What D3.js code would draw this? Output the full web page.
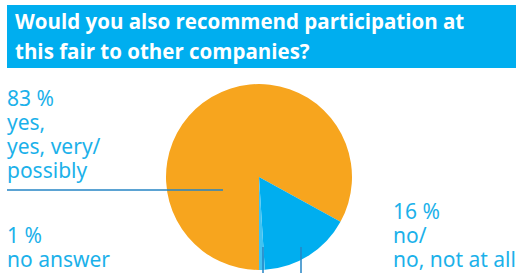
<!DOCTYPE html>
<html>
<head>
<meta charset="utf-8">
<script src="https://cdn.jsdelivr.net/npm/d3@7"></script>
<style>
  body { margin: 0; background: #fff; }
  svg { display: block; }
</style>
</head>
<body>
<svg id="chart" width="518" height="273"></svg>
<script>
// survey answers
const categories = ['yes, yes, very/ possibly', 'no/ no, not at all', 'no answer'];
const shares = [83, 16, 1];
const colors = ['#f7a51e', '#00aeef', '#40c3f2'];
const titleLines = ['Would you also recommend participation at', 'this fair to other companies?'];
const labelLines = [
  ['83 %', 'yes,', 'yes, very/', 'possibly'],
  ['16 %', 'no/', 'no, not at all'],
  ['1 %', 'no answer']
];

const svg = d3.select('#chart');
const textBlue = '#1bb1ea';
const lineBlue = '#2484c4';

// title bar
svg.append('rect')
  .attr('x', 7).attr('y', 5)
  .attr('width', 509).attr('height', 63)
  .attr('fill', '#00aeef');

svg.append('g')
  .selectAll('text')
  .data(titleLines)
  .enter()
  .append('text')
  .attr('x', 15)
  .attr('y', (d, i) => 29 + i * 30)
  .attr('fill', '#fff')
  .style('font-family', 'Open Sans, sans-serif')
  .style('font-weight', 700)
  .style('font-size', '20.5px')
  .text(d => d);

// pie
const cx = 259, cy = 177, r = 93;
const pie = d3.pie()
  .sort(null)
  .startAngle(Math.PI)
  .endAngle(3 * Math.PI);
const arcs = pie(shares);

const arc = d3.arc().innerRadius(0).outerRadius(r);

svg.append('g')
  .attr('transform', `translate(${cx},${cy})`)
  .selectAll('path')
  .data(arcs)
  .enter()
  .append('path')
  .attr('d', arc)
  .attr('fill', (d, i) => colors[i]);

// labels, one text per line
const labelPos = [
  { x: 7, y: 106 },
  { x: 393, y: 219 },
  { x: 7, y: 243 }
];

const lines = [];
labelLines.forEach((ls, i) => ls.forEach((t, j) => lines.push({ t, x: labelPos[i].x, y: labelPos[i].y + j * 24 })));

svg.append('g')
  .selectAll('text')
  .data(lines)
  .enter()
  .append('text')
  .attr('x', d => d.x)
  .attr('y', d => d.y)
  .attr('fill', textBlue)
  .style('font-family', 'Noto Sans, sans-serif')
  .style('font-size', '21px')
  .text(d => d.t);

// leader lines
const leaders = svg.append('g')
  .attr('stroke', lineBlue)
  .attr('stroke-width', 1.5)
  .attr('fill', 'none');

// 83 %: horizontal line into the orange slice
leaders.append('line')
  .attr('x1', 7).attr('y1', 190)
  .attr('x2', cx - 36).attr('y2', 190);

// 1 % and 16 %: vertical lines up from the bottom edge
[cx + 4, cx + 42].forEach(x => {
  leaders.append('line')
    .attr('x1', x).attr('y1', cy + 70)
    .attr('x2', x).attr('y2', 273);
});
</script>
</body>
</html>
